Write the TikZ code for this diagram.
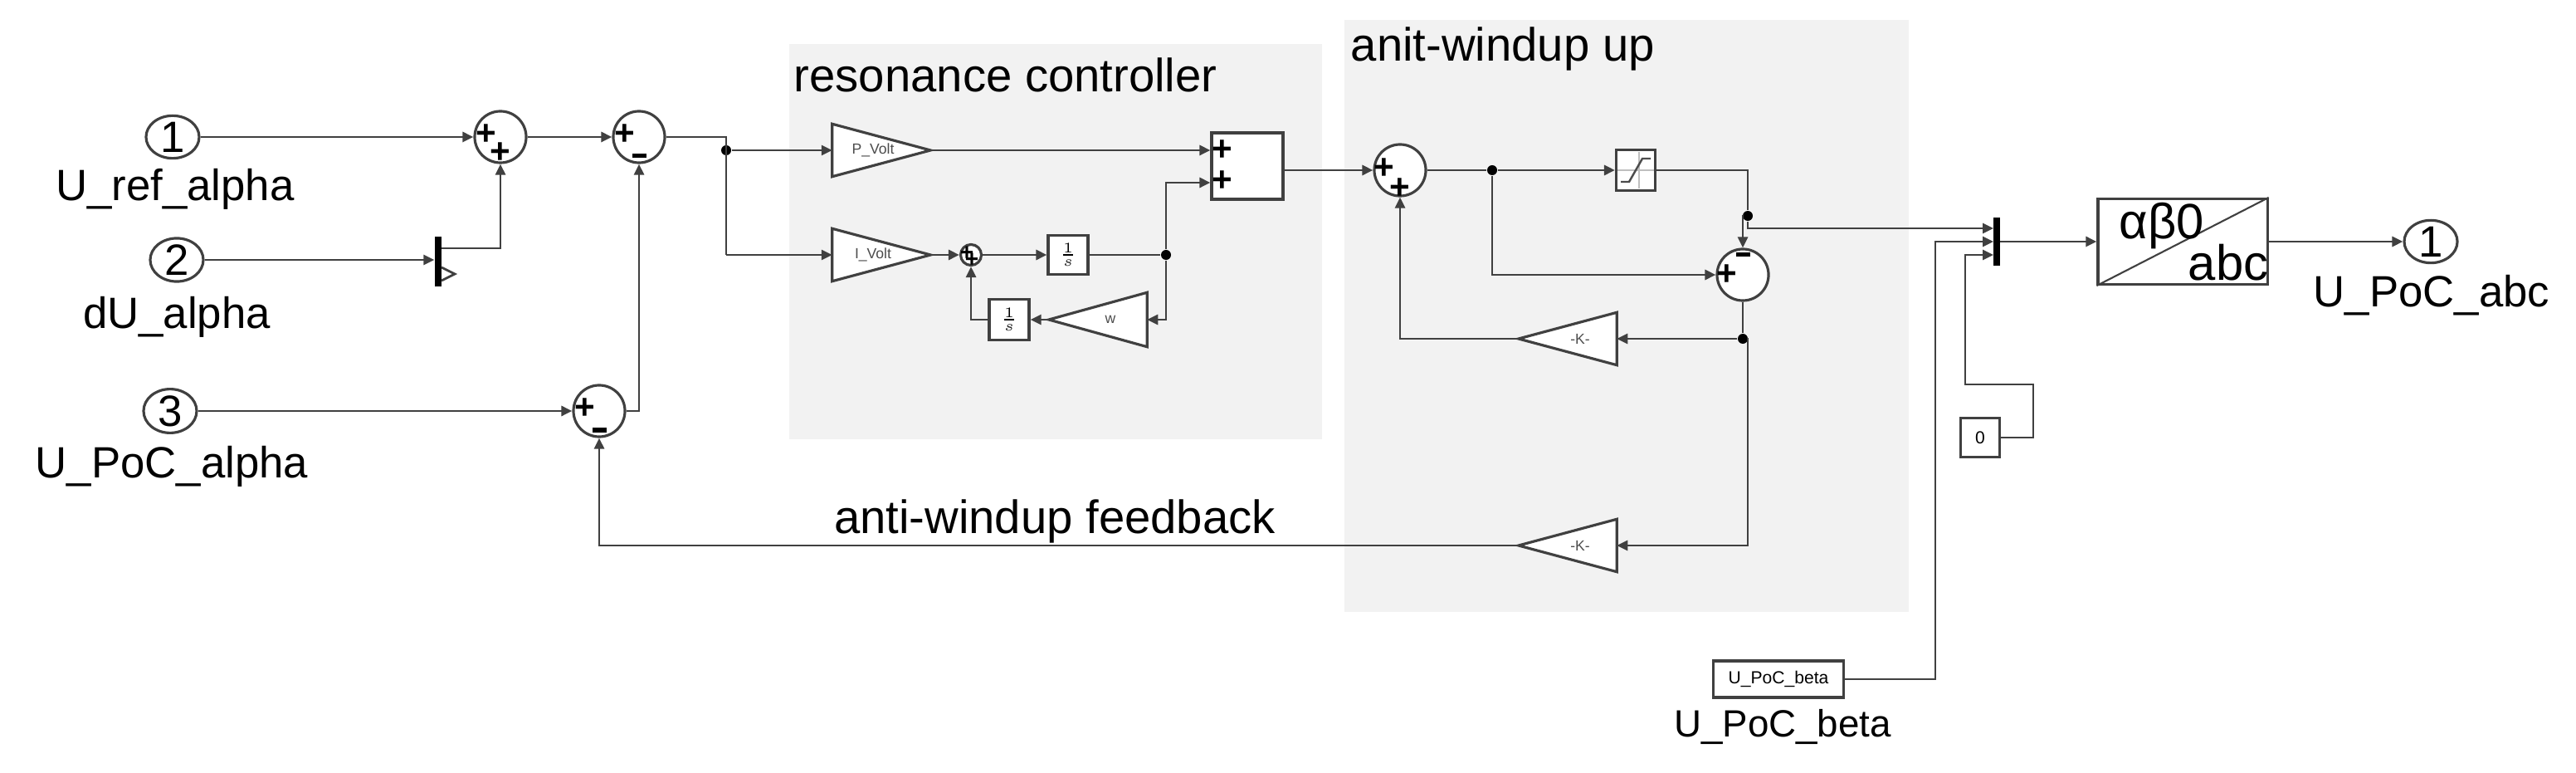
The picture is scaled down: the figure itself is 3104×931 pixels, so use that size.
\documentclass[tikz,border=0pt]{standalone}
\usepackage{fontspec}
\setmainfont{Liberation Sans}
\usetikzlibrary{arrows.meta,shapes.geometric}
\begin{document}
\begin{tikzpicture}[x=0.01cm,y=-0.01cm,
  >={Triangle[length=1.3mm,width=1.2mm]},
  ln/.style={draw=black!75,line width=0.8pt},
  blk/.style={draw=black!75,line width=0.9pt,fill=white,inner sep=0},
  port/.style={blk,ellipse,minimum width=0.64cm,minimum height=0.47cm,font=\fontsize{15}{15}\selectfont},
  sum/.style={blk,circle,minimum size=0.62cm},
  lab/.style={font=\fontsize{15}{15}\selectfont,inner sep=0},
  sg/.style={font=\fontsize{12}{12}\selectfont\bfseries,inner sep=0},
  mn/.style={fill=black,inner sep=0,minimum width=0.17cm,minimum height=0.5mm},
  tri/.style={inner sep=0,draw=none},
  tt/.style={inner sep=0,font=\fontsize{5}{5}\selectfont,text=black!70},
  dot/.style={circle,fill=black,inner sep=0,minimum size=1.2mm},
  bar/.style={fill=black,draw=none,inner sep=0,minimum width=0.08cm},
  bg/.style={fill=black!5,draw=none}]
\useasboundingbox (0,0) rectangle (3104,931);
% backgrounds
\fill[bg] (951,53) rectangle (1593,529);
\fill[bg] (1620,24) rectangle (2300,737);
\node[lab,anchor=west,font=\fontsize{16}{16}\selectfont] (t1) at (956,90) {resonance controller};
\node[lab,anchor=west,font=\fontsize{16}{16}\selectfont] (t2) at (1627,59) {anit-windup up};
\node[lab,font=\fontsize{16}{16}\selectfont] (t3) at (1271,628) {anti-windup feedback};
% inports
\node[port] (in1) at (208,165) {1};
\node[port] (in2) at (213,313) {2};
\node[port] (in3) at (205,495) {3};
\node[lab] (l1) at (211,228) {U\_ref\_alpha};
\node[lab] (l2) at (213,382) {dU\_alpha};
\node[lab] (l3) at (207,562) {U\_PoC\_alpha};
% mux1
\node[bar,minimum height=0.6cm] (mux1) at (528,315) {};
\draw[black!75,line width=0.8pt] (532,322)--(548,330)--(532,338);
% sums
\node[sum] (s1) at (603,165) {};
\node[sum] (s2) at (770,165) {};
\node[sum] (s3) at (722,495) {};
\node[sg] (p1) at (586,162) {+}; \node[sg] (p2) at (603,184) {+};
\node[sg] (p3) at (753,162) {+}; \node[mn] (m1) at (770,188) {};
\node[sg] (p4) at (705,492) {+}; \node[mn] (m2) at (722,518) {};
% resonance controller
\node[tri,minimum width=1.17cm,minimum height=0.62cm] (gP) at (1062,181) {};
\draw[blk] (gP.north west)--(gP.east)--(gP.south west)--cycle;
\node[tt] (gPt) at (1052,181) {P\_Volt};
\node[tri,minimum width=1.17cm,minimum height=0.62cm] (gI) at (1062,307) {};
\draw[blk] (gI.north west)--(gI.east)--(gI.south west)--cycle;
\node[tt] (gIt) at (1052,307) {I\_Volt};
\node[blk,circle,minimum size=0.25cm] (ss) at (1170,307) {};
\node[sg,font=\fontsize{8}{8}\selectfont\bfseries] (p5) at (1165,305) {+};
\node[sg,font=\fontsize{8}{8}\selectfont\bfseries] (p6) at (1171,313) {+};
\node[blk,minimum width=0.48cm,minimum height=0.47cm,font=\fontsize{5}{5}\selectfont] (i1) at (1287,307) {$\frac{1}{s}$};
\node[tri,minimum width=1.17cm,minimum height=0.64cm] (gw) at (1323,385) {};
\draw[blk] (gw.north east)--(gw.west)--(gw.south east)--cycle;
\node[tt] (gwt) at (1338,385) {w};
\node[blk,minimum width=0.48cm,minimum height=0.49cm,font=\fontsize{5}{5}\selectfont] (i2) at (1216,385) {$\frac{1}{s}$};
\node[blk,minimum width=0.86cm,minimum height=0.8cm] (sB) at (1503,200) {};
\node[sg] (p7) at (1473,181) {+}; \node[sg] (p8) at (1473,218) {+};
% anti-windup
\node[sum] (s4) at (1687,205) {};
\node[sg] (p9) at (1668,203) {+}; \node[sg] (p10) at (1687,227) {+};
\node[blk,minimum width=0.47cm,minimum height=0.49cm] (sat) at (1971,205) {};
\draw[black!25,line width=0.5pt] (1949,205)--(1993,205) (1975,183)--(1975,227);
\draw[black!70,line width=0.7pt] (1953,219)--(1963,219)--(1979,191)--(1989,191);
\node[sum] (s5) at (2100,331) {};
\node[sg] (p11) at (2081,331) {+}; \node[mn] (m3) at (2100,307) {};
\node[tri,minimum width=1.17cm,minimum height=0.62cm] (k1) at (1889,408) {};
\draw[blk] (k1.north east)--(k1.west)--(k1.south east)--cycle;
\node[tt] (k1t) at (1904,408) {-K-};
\node[tri,minimum width=1.17cm,minimum height=0.62cm] (k2) at (1889,657) {};
\draw[blk] (k2.north east)--(k2.west)--(k2.south east)--cycle;
\node[tt] (k2t) at (1904,657) {-K-};
% right part
\node[bar,minimum height=0.58cm] (mux2) at (2406,291) {};
\node[blk,minimum width=2.04cm,minimum height=1.03cm] (tr) at (2630,291) {};
\draw[black!75,line width=0.6pt] (tr.south west)--(tr.north east);
\node[lab,font=\fontsize{17}{17}\selectfont] (ab) at (2605,272) {αβ0};
\node[lab,font=\fontsize{17}{17}\selectfont] (abc) at (2685,316) {abc};
\node[port] (out) at (2929,291) {1};
\node[lab] (lo) at (2930,356) {U\_PoC\_abc};
\node[blk,minimum width=0.47cm,minimum height=0.47cm,font=\fontsize{6}{6}\selectfont] (c0) at (2386,527) {0};
\node[blk,minimum width=1.57cm,minimum height=0.44cm,font=\fontsize{6}{6}\selectfont] (pb) at (2143,818) {U\_PoC\_beta};
\node[lab,font=\fontsize{13}{13}\selectfont] (lpb) at (2148,875) {U\_PoC\_beta};
% dots
\node[dot] (d1) at (875,181) {};
\node[dot] (d2) at (1405,307) {};
\node[dot] (d3) at (1798,205) {};
\node[dot] (d4) at (2106,260) {};
\node[dot] (d5) at (2100,408) {};
% connectors
\draw[ln,->] (in1) -- (s1);
\draw[ln,->] (in2) -- (mux1.west|-in2);
\draw[ln,->] (532,299) -| (s1.south);
\draw[ln,->] (s1) -- (s2);
\draw[ln,->] (in3) -- (s3);
\draw[ln,->] (s3.east) -| (s2.south);
\draw[ln] (s2.east) -- (875,165) -- (875,307);
\draw[ln,->] (d1) -- (gP.west);
\draw[ln,->] (875,307) -- (gI.west);
\draw[ln,->] (gI.east) -- (ss.west);
\draw[ln,->] (ss.east) -- (i1.west);
\draw[ln] (i1.east) -- (d2);
\draw[ln,->] (d2) -- (1405,220) -- (sB.west|-0,220);
\draw[ln,->] (d2) |- (gw.east);
\draw[ln,->] (gw.west) -- (i2.east);
\draw[ln,->] (i2.west) -| (ss.south);
\draw[ln,->] (gP.east) -- (sB.west|-gP);
\draw[ln,->] (sB.east|-0,205) -- (s4.west);
\draw[ln] (s4.east) -- (d3);
\draw[ln,->] (d3) -- (sat.west);
\draw[ln,->] (d3) |- (s5.west);
\draw[ln] (sat.east) -| (d4);
\draw[ln,->] (d4) -| (s5.north);
\draw[ln,->] (d4) -- (2106,275) -- (2402,275);
\draw[ln] (s5.south) -- (d5);
\draw[ln,->] (d5) -- (k1.east);
\draw[ln,->] (k1.west) -| (s4.south);
\draw[ln,->] (d5) -- (2106,408) |- (k2.east);
\draw[ln,->] (k2.west) -| (s3.south);
\draw[ln,->] (pb.east) -- (2332,818) -- (2332,291) -- (2402,291);
\draw[ln,->] (c0.east) -- (2450,527) -- (2450,463) -- (2368,463) -- (2368,307) -- (2402,307);
\draw[ln,->] (2410,291) -- (tr.west);
\draw[ln,->] (tr.east) -- (out.west);
\end{tikzpicture}
\end{document}
